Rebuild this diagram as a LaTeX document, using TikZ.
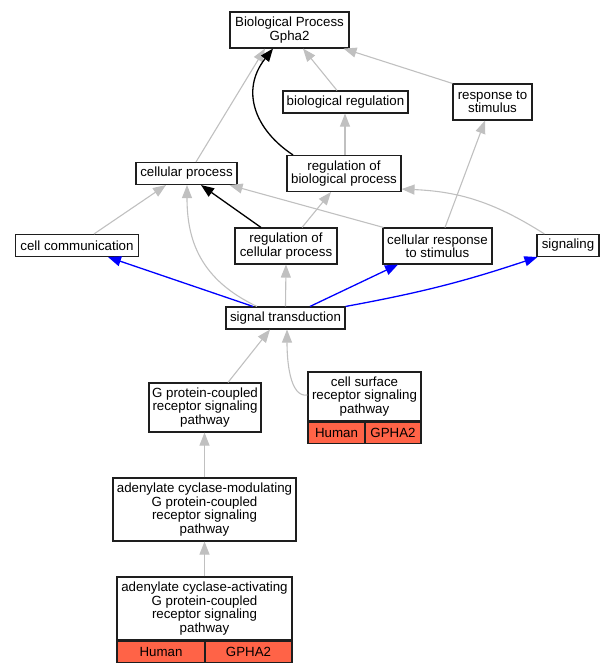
\documentclass[tikz,border=0pt]{standalone}
\usepackage{fontspec}
\setmainfont{Liberation Sans}
\usetikzlibrary{arrows.meta,calc}
\definecolor{edgegray}{RGB}{192,192,192}
\definecolor{cellred}{RGB}{255,99,71}
\definecolor{boxline}{RGB}{30,30,30}
\tikzset{
  box/.style={draw=boxline, line width=1.1pt, fill=white, align=center, inner sep=0pt,
    font=\fontsize{13.3pt}{13.5pt}\selectfont},
  cell/.style={box, fill=cellred},
  gedge/.style={draw=edgegray, line width=1.1pt, -{Triangle[length=13pt,width=10pt]}},
  kedge/.style={draw=black, line width=1.3pt, -{Triangle[length=13pt,width=10pt]}},
  bedge/.style={draw=blue, line width=1.3pt, -{Triangle[length=13pt,width=10pt]}},
}
\begin{document}
\begin{tikzpicture}[x=1pt,y=-1pt]
\useasboundingbox (0,0) rectangle (613,672);
% nodes
\node[box, minimum width=119pt, minimum height=36pt] (BP) at (289.5,30) {Biological Process\\Gpha2};
\node[box, minimum width=125pt, minimum height=22pt] (bioreg) at (345.5,102) {biological regulation};
\node[box, minimum width=79pt, minimum height=36pt] (resp) at (492.5,102) {response to\\stimulus};
\node[box, minimum width=101pt, minimum height=22pt] (cellproc) at (186.5,173.5) {cellular process};
\node[box, minimum width=114pt, minimum height=36pt] (regbio) at (344,173.5) {regulation of\\biological process};
\node[box, minimum width=123pt, minimum height=22pt] (cellcomm) at (77,245.5) {cell communication};
\node[box, minimum width=102pt, minimum height=36pt] (regcell) at (286,246) {regulation of\\cellular process};
\node[box, minimum width=109pt, minimum height=36pt] (cellresp) at (437.5,246) {cellular response\\to stimulus};
\node[box, minimum width=62pt, minimum height=22pt] (signaling) at (568,245.5) {signaling};
\node[box, minimum width=119pt, minimum height=22pt] (sigtrans) at (285.5,318) {signal transduction};
\node[box, minimum width=112pt, minimum height=49pt] (gpcr) at (205,407.5) {G protein-coupled\\receptor signaling\\pathway};
\node[box, minimum width=113pt, minimum height=49pt] (cellsurf) at (364.5,396.5) {cell surface\\receptor signaling\\pathway};
\node[cell, minimum width=57pt, minimum height=21pt, anchor=north west] (csh) at (cellsurf.south west) {Human};
\node[cell, minimum width=56pt, minimum height=21pt, anchor=north east] (csg) at (cellsurf.south east) {GPHA2};
\node[box, minimum width=183pt, minimum height=63pt] (acmod) at (204.5,509.5) {adenylate cyclase-modulating\\G protein-coupled\\receptor signaling\\pathway};
\node[box, minimum width=175pt, minimum height=63pt] (acact) at (204.5,608.5) {adenylate cyclase-activating\\G protein-coupled\\receptor signaling\\pathway};
\node[cell, minimum width=88pt, minimum height=21pt, anchor=north west] (aah) at (acact.south west) {Human};
\node[cell, minimum width=87pt, minimum height=21pt, anchor=north east] (aag) at (acact.south east) {GPHA2};
% edges
\draw[gedge] ([xshift=9.5pt]cellproc.north) -- ([xshift=-24.5pt]BP.south);
\draw[kedge] ([xshift=-51pt]regbio.north) .. controls +(-38,-25) and +(-33,42) .. ([xshift=-16.5pt]BP.south);
\draw[gedge] ([xshift=-8.5pt]bioreg.north) -- ([xshift=13.5pt]BP.south);
\draw[gedge] (resp.north west) -- ([xshift=-6pt]BP.south east);
\draw[gedge] ([xshift=1pt]regbio.north) -- ([xshift=-0.5pt]bioreg.south);
\draw[gedge] ([xshift=7.5pt]cellresp.north) -- ([xshift=-7.5pt]resp.south);
\draw[gedge] ([xshift=17pt]cellcomm.north) -- ([xshift=-20.5pt]cellproc.south);
\draw[gedge] ([xshift=-28.5pt]sigtrans.north) .. controls +(-57,-27) and +(0,55) .. ([xshift=0.5pt]cellproc.south);
\draw[kedge] ([xshift=-25pt]regcell.north) -- ([xshift=14.5pt]cellproc.south);
\draw[gedge] ([xshift=1pt]cellresp.north west) -- ([xshift=-8pt]cellproc.south east);
\draw[gedge] ([xshift=16pt]regcell.north) -- ([xshift=-13pt]regbio.south);
\draw[gedge] ([xshift=8pt]signaling.north west) to[bend right=15] ([yshift=3pt]regbio.south east);
\draw[bedge] ([xshift=-32.5pt]sigtrans.north) -- ([xshift=31pt]cellcomm.south);
\draw[gedge] (sigtrans.north) -- (regcell.south);
\draw[bedge] ([xshift=24.5pt]sigtrans.north) -- ([xshift=-39.5pt]cellresp.south);
\draw[bedge] (sigtrans.north east) to[bend right=4] ([xshift=1pt]signaling.south west);
\draw[gedge] ([xshift=23pt]gpcr.north) -- ([xshift=-15.5pt]sigtrans.south);
\draw[gedge] ([yshift=1.5pt]cellsurf.west) .. controls +(-18,3) and +(0,30) .. ([xshift=1.5pt]sigtrans.south);
\draw[gedge] (acmod.north) -- (acmod.north |- gpcr.south);
\draw[gedge] (acact.north) -- (acact.north |- acmod.south);
\end{tikzpicture}
\end{document}
